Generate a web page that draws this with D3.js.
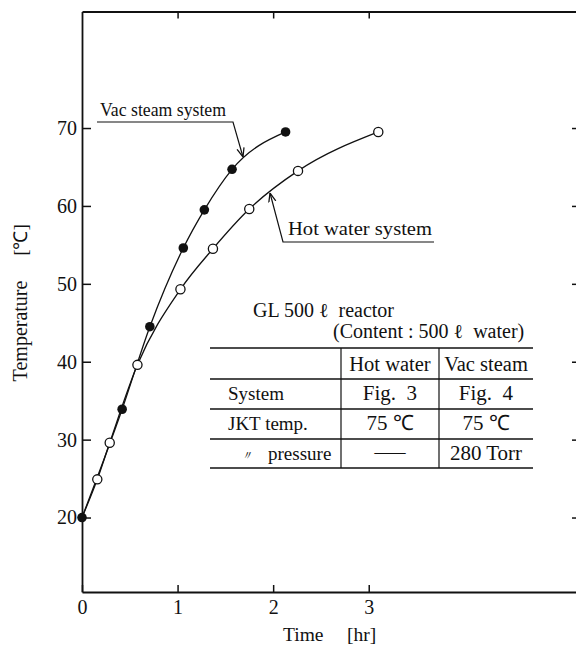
<!DOCTYPE html>
<html>
<head>
<meta charset="utf-8">
<script src="https://cdn.jsdelivr.net/npm/d3@7"></script>
<style>
  html, body { margin: 0; padding: 0; background: #fff; }
  svg { display: block; }
  text { font-family: "Liberation Serif", "Times New Roman", serif; fill: #111; }
</style>
</head>
<body>
<svg id="chart" width="576" height="647"></svg>
<script>
// ---- data ----
const timeVac = [0, 0.42, 0.71, 1.06, 1.28, 1.57, 2.13];
const tempVac = [20, 33.9, 44.5, 54.6, 59.5, 64.7, 69.5];
const timeHot = [0, 0.16, 0.29, 0.58, 1.03, 1.37, 1.75, 2.26, 3.10];
const tempHot = [20, 24.9, 29.6, 39.6, 49.3, 54.5, 59.6, 64.5, 69.5];
const xTicks = [0, 1, 2, 3];
const xTopTicks = [1, 2, 3];
const yTicks = [20, 30, 40, 50, 60, 70];
const seriesNames = ["Vac steam system", "Hot water system"];
const tableTitle = ["GL 500 ℓ  reactor", "(Content : 500 ℓ  water)"];
const tableHeader = ["", "Hot water", "Vac steam"];
const tableRowLabels = ["System", "JKT temp.", "pressure"];
const tableHotWater = ["Fig.  3", "75 ℃", "—"];
const tableVacSteam = ["Fig.  4", "75 ℃", "280 Torr"];
const xTitle = ["Time", "[hr]"];
const yTitle = ["Temperature", "[℃]"];

// ---- layout ----
const svg = d3.select("#chart");
const mLeft = 82, mRight = 579, mTop = 11.5, mBottom = 592;
const x = d3.scaleLinear().domain([0, 5.2]).range([mLeft, mRight]);
const y = d3.scaleLinear().domain([10.44, 84.96]).range([mBottom, mTop]);

const axisStyle = g => {
  g.selectAll("path.domain").attr("stroke", "#111").attr("stroke-width", 1.8);
  g.selectAll(".tick line").attr("stroke", "#111").attr("stroke-width", 1.5);
  g.selectAll(".tick text").style("font-family", '"Liberation Serif", serif').style("font-size", "20px").attr("fill", "#111");
};

svg.append("g").attr("transform", `translate(${mLeft},0)`)
  .call(d3.axisLeft(y).tickValues(yTicks).tickSize(-9).tickSizeOuter(0).tickPadding(5).tickFormat(d3.format("d")))
  .call(axisStyle);
svg.append("g").attr("transform", `translate(0,${mBottom})`)
  .call(d3.axisBottom(x).tickValues(xTicks).tickSize(-7).tickSizeOuter(0).tickPadding(8).tickFormat(d3.format("d")))
  .call(axisStyle)
  .call(g => g.selectAll(".tick text").attr("y", 8));
svg.append("g").attr("transform", `translate(0,${mTop})`)
  .call(d3.axisTop(x).tickValues(xTopTicks).tickSize(-7).tickSizeOuter(0).tickFormat(""))
  .call(axisStyle);
svg.append("g").attr("transform", `translate(${mRight},0)`)
  .call(d3.axisRight(y).tickValues(yTicks).tickSize(-7).tickSizeOuter(0).tickFormat(""))
  .call(axisStyle);

// axis titles
svg.append("text").attr("x", 283).attr("y", 641).style("font-size", "19.5px").text(xTitle[0]);
svg.append("text").attr("x", 347).attr("y", 641).style("font-size", "19.5px").text(xTitle[1]);
svg.append("text").attr("transform", "translate(27,331) rotate(-90)").attr("text-anchor", "middle").style("font-size", "20px").text(yTitle[0]);
svg.append("text").attr("transform", "translate(27,240) rotate(-90)").attr("text-anchor", "middle").style("font-size", "19px").text(yTitle[1]);

// curves
const line = d3.line().x(d => x(d[0])).y(d => y(d[1])).curve(d3.curveMonotoneX);
const vac = timeVac.map((t, i) => [t, tempVac[i]]);
const hot = timeHot.map((t, i) => [t, tempHot[i]]);
svg.append("path").datum(hot).attr("d", line).attr("fill", "none").attr("stroke", "#111").attr("stroke-width", 1.3);
svg.append("path").datum(vac).attr("d", line).attr("fill", "none").attr("stroke", "#111").attr("stroke-width", 1.3);

svg.append("g").selectAll("circle").data(hot.slice(1)).join("circle")
  .attr("cx", d => x(d[0])).attr("cy", d => y(d[1])).attr("r", 4.6)
  .attr("fill", "#fff").attr("stroke", "#111").attr("stroke-width", 1.3);
svg.append("g").selectAll("circle").data(vac).join("circle")
  .attr("cx", d => x(d[0])).attr("cy", d => y(d[1])).attr("r", 4.8)
  .attr("fill", "#111");

// annotations
svg.append("defs").append("marker").attr("id", "arr").attr("viewBox", "0 0 10 10")
  .attr("refX", 10).attr("refY", 5).attr("markerWidth", 9).attr("markerHeight", 9)
  .attr("markerUnits", "userSpaceOnUse").attr("orient", "auto")
  .append("path").attr("d", "M0,1 L10,5 L0,9").attr("fill", "none").attr("stroke", "#111").attr("stroke-width", 1.4);

svg.append("text").attr("x", 100).attr("y", 116).style("font-size", "19px")
  .attr("textLength", 126).attr("lengthAdjust", "spacingAndGlyphs").text(seriesNames[0]);
svg.append("path").attr("d", "M97,122 L233,122 L243,157").attr("fill", "none")
  .attr("stroke", "#111").attr("stroke-width", 1.2).attr("marker-end", "url(#arr)");

svg.append("text").attr("x", 288).attr("y", 235).style("font-size", "19px")
  .attr("textLength", 144).attr("lengthAdjust", "spacingAndGlyphs").text(seriesNames[1]);
svg.append("path").attr("d", "M434,242 L283,242 L270,193").attr("fill", "none")
  .attr("stroke", "#111").attr("stroke-width", 1.2).attr("marker-end", "url(#arr)");

// table
const tb = svg.append("g");
const fs = "19px", fsBig = "20px";
tb.append("text").attr("x", 253).attr("y", 317).style("font-size", fsBig).style("white-space", "pre").text(tableTitle[0]);
tb.append("text").attr("x", 333).attr("y", 338).style("font-size", fsBig).style("white-space", "pre").text(tableTitle[1]);
const tL = 210, tR = 533, c1 = 341, c2 = 439;
const rowLines = [348, 379, 409, 439, 468];
rowLines.forEach(yy => tb.append("line").attr("x1", tL).attr("x2", tR).attr("y1", yy).attr("y2", yy)
  .attr("stroke", "#111").attr("stroke-width", 1.3));
[c1, c2].forEach(xx => tb.append("line").attr("x1", xx).attr("x2", xx).attr("y1", 348).attr("y2", 468)
  .attr("stroke", "#111").attr("stroke-width", 1.2));
const cy = [371, 400, 430, 460];
tb.append("text").attr("x", (c1 + c2) / 2).attr("y", cy[0]).attr("text-anchor", "middle").style("font-size", "20.5px").text(tableHeader[1]);
tb.append("text").attr("x", (c2 + tR) / 2).attr("y", cy[0]).attr("text-anchor", "middle").style("font-size", "20.5px").text(tableHeader[2]);
tableRowLabels.forEach((lab, i) => {
  const xx = i === 2 ? 268 : 228;
  tb.append("text").attr("x", xx).attr("y", cy[i + 1]).style("font-size", fs).text(lab);
  if (i === 2) tb.append("text").attr("x", 240).attr("y", cy[i + 1]).style("font-size", "13px").style("font-style", "italic").text("〃");
  const hv = tableHotWater[i];
  const t1 = tb.append("text").attr("x", (c1 + c2) / 2).attr("y", cy[i + 1]).attr("text-anchor", "middle").style("font-size", "21px").style("white-space", "pre").text(hv);
  if (hv === "—") t1.attr("y", cy[i + 1] - 1).attr("textLength", 31).attr("lengthAdjust", "spacingAndGlyphs");
  tb.append("text").attr("x", (c2 + tR) / 2).attr("y", cy[i + 1]).attr("text-anchor", "middle").style("font-size", "21px").style("white-space", "pre").text(tableVacSteam[i]);
});
</script>
</body>
</html>
